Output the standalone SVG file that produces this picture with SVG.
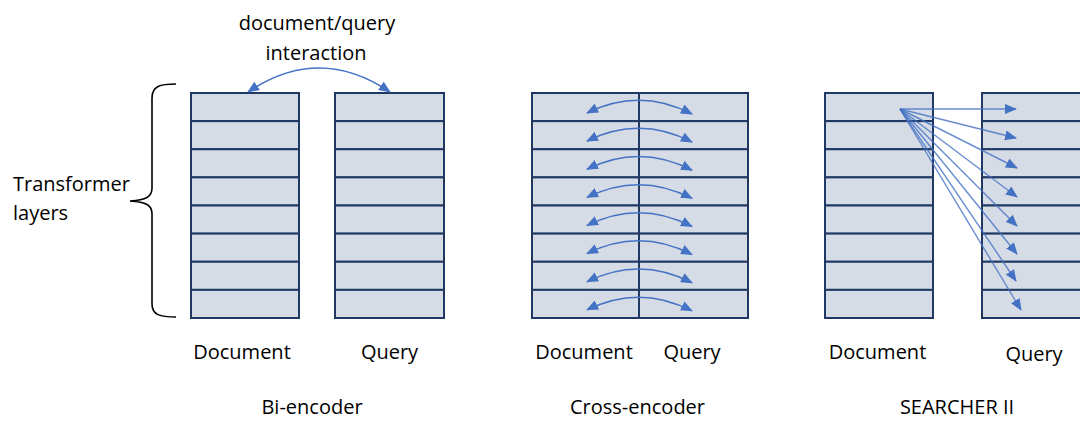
<svg xmlns="http://www.w3.org/2000/svg" width="1080" height="421" viewBox="0 0 1080 421">
<style>
text{font-family:"Open Sans","Liberation Sans",sans-serif;font-size:20px;fill:#000}
.c{text-anchor:middle}
.row{fill:#D6DCE5;stroke:#1F3864;stroke-width:2}
.arr{fill:none;stroke:#4472C4;stroke-width:1.5}
.ray{fill:none;stroke:#4472C4;stroke-width:1.4;stroke-opacity:0.8}
</style>
<defs>
<marker id="ah" viewBox="0 0 12 10" refX="11" refY="5" markerWidth="12" markerHeight="10" markerUnits="userSpaceOnUse" orient="auto-start-reverse">
<path d="M0,0 L12,5 L0,10 Z" fill="#4472C4"/>
</marker>
</defs>
<rect width="1080" height="421" fill="#fff"/>

<g id="bi-doc">
<rect class="row" x="191" y="93" width="108" height="28.125"/>
<rect class="row" x="191" y="121.125" width="108" height="28.125"/>
<rect class="row" x="191" y="149.25" width="108" height="28.125"/>
<rect class="row" x="191" y="177.375" width="108" height="28.125"/>
<rect class="row" x="191" y="205.5" width="108" height="28.125"/>
<rect class="row" x="191" y="233.625" width="108" height="28.125"/>
<rect class="row" x="191" y="261.75" width="108" height="28.125"/>
<rect class="row" x="191" y="289.875" width="108" height="28.125"/>
<text class="c" x="242" y="359">Document</text>
</g>
<g id="bi-query">
<rect class="row" x="335" y="93" width="109" height="28.125"/>
<rect class="row" x="335" y="121.125" width="109" height="28.125"/>
<rect class="row" x="335" y="149.25" width="109" height="28.125"/>
<rect class="row" x="335" y="177.375" width="109" height="28.125"/>
<rect class="row" x="335" y="205.5" width="109" height="28.125"/>
<rect class="row" x="335" y="233.625" width="109" height="28.125"/>
<rect class="row" x="335" y="261.75" width="109" height="28.125"/>
<rect class="row" x="335" y="289.875" width="109" height="28.125"/>
<text class="c" x="389.5" y="359">Query</text>
</g>
<g id="cross">
<rect class="row" x="532" y="93" width="216" height="28.125"/>
<rect class="row" x="532" y="121.125" width="216" height="28.125"/>
<rect class="row" x="532" y="149.25" width="216" height="28.125"/>
<rect class="row" x="532" y="177.375" width="216" height="28.125"/>
<rect class="row" x="532" y="205.5" width="216" height="28.125"/>
<rect class="row" x="532" y="233.625" width="216" height="28.125"/>
<rect class="row" x="532" y="261.75" width="216" height="28.125"/>
<rect class="row" x="532" y="289.875" width="216" height="28.125"/>
<line x1="639" y1="93" x2="639" y2="318" stroke="#1F3864" stroke-width="2"/>
<text class="c" x="584" y="359">Document</text>
<text class="c" x="692" y="359">Query</text>
</g>
<g id="searcher-doc">
<rect class="row" x="825" y="93" width="108" height="28.125"/>
<rect class="row" x="825" y="121.125" width="108" height="28.125"/>
<rect class="row" x="825" y="149.25" width="108" height="28.125"/>
<rect class="row" x="825" y="177.375" width="108" height="28.125"/>
<rect class="row" x="825" y="205.5" width="108" height="28.125"/>
<rect class="row" x="825" y="233.625" width="108" height="28.125"/>
<rect class="row" x="825" y="261.75" width="108" height="28.125"/>
<rect class="row" x="825" y="289.875" width="108" height="28.125"/>
<text class="c" x="877.5" y="359">Document</text>
</g>
<g id="searcher-query">
<rect class="row" x="982" y="93" width="110" height="28.125"/>
<rect class="row" x="982" y="121.125" width="110" height="28.125"/>
<rect class="row" x="982" y="149.25" width="110" height="28.125"/>
<rect class="row" x="982" y="177.375" width="110" height="28.125"/>
<rect class="row" x="982" y="205.5" width="110" height="28.125"/>
<rect class="row" x="982" y="233.625" width="110" height="28.125"/>
<rect class="row" x="982" y="261.75" width="110" height="28.125"/>
<rect class="row" x="982" y="289.875" width="110" height="28.125"/>
<text class="c" x="1034" y="361">Query</text>
</g>

<g id="labels">
<text class="c" x="317" y="30">document/query</text>
<text class="c" x="316" y="60">interaction</text>
<text x="13" y="191">Transformer</text>
<text x="13" y="220">layers</text>
<text class="c" x="312" y="414">Bi-encoder</text>
<text class="c" x="637.5" y="414">Cross-encoder</text>
<text class="c" x="957" y="414">SEARCHER II</text>
</g>

<g id="brace">
<path d="M176,84 C160,84 152,86 152,98 L152,188 C152,197 146,200 130,201 C146,202 152,205 152,214 L152,304 C152,315 160,317 176,317" fill="none" stroke="#000" stroke-width="1.6"/>
</g>

<g id="connectors">
<path class="arr" d="M248,92 Q319,44 390,92" marker-start="url(#ah)" marker-end="url(#ah)"/>
<path class="arr" d="M587,113 Q639.5,87 692,114" marker-start="url(#ah)" marker-end="url(#ah)"/>
<path class="arr" d="M587,141.1 Q639.5,115.1 692,142.1" marker-start="url(#ah)" marker-end="url(#ah)"/>
<path class="arr" d="M587,169.25 Q639.5,143.25 692,170.25" marker-start="url(#ah)" marker-end="url(#ah)"/>
<path class="arr" d="M587,197.4 Q639.5,171.4 692,198.4" marker-start="url(#ah)" marker-end="url(#ah)"/>
<path class="arr" d="M587,225.5 Q639.5,199.5 692,226.5" marker-start="url(#ah)" marker-end="url(#ah)"/>
<path class="arr" d="M587,253.6 Q639.5,227.6 692,254.6" marker-start="url(#ah)" marker-end="url(#ah)"/>
<path class="arr" d="M587,281.75 Q639.5,255.75 692,282.75" marker-start="url(#ah)" marker-end="url(#ah)"/>
<path class="arr" d="M587,309.9 Q639.5,283.9 692,310.9" marker-start="url(#ah)" marker-end="url(#ah)"/>
<line class="ray" x1="900" y1="109" x2="1016" y2="109" marker-end="url(#ah)"/>
<line class="ray" x1="900" y1="109" x2="1016" y2="138" marker-end="url(#ah)"/>
<line class="ray" x1="900" y1="109" x2="1017" y2="168" marker-end="url(#ah)"/>
<line class="ray" x1="900" y1="109" x2="1017" y2="197" marker-end="url(#ah)"/>
<line class="ray" x1="900" y1="109" x2="1017" y2="226" marker-end="url(#ah)"/>
<line class="ray" x1="900" y1="109" x2="1017" y2="254" marker-end="url(#ah)"/>
<line class="ray" x1="900" y1="109" x2="1016" y2="281" marker-end="url(#ah)"/>
<line class="ray" x1="900" y1="109" x2="1021" y2="310" marker-end="url(#ah)"/>
</g>
</svg>
